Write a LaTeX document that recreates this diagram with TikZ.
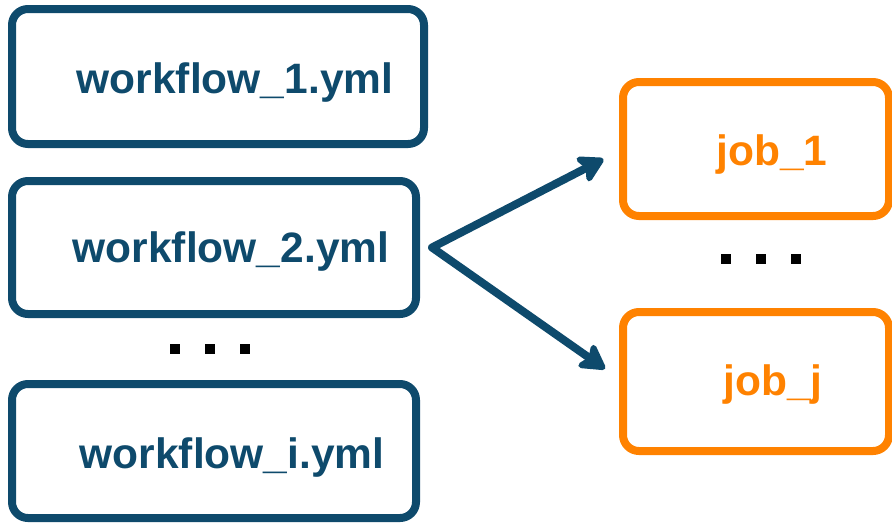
\documentclass[tikz,border=0pt]{standalone}
\usepackage{fontspec}
\setmainfont{Liberation Sans}
\usetikzlibrary{arrows.meta}
\definecolor{wfblue}{RGB}{14,74,108}
\definecolor{joborange}{RGB}{255,130,0}
\tikzset{
  wfbox/.style={draw=wfblue, line width=8pt, rounded corners=16pt, inner sep=0pt, outer sep=0pt},
  jobbox/.style={draw=joborange, line width=8pt, rounded corners=16pt, inner sep=0pt, outer sep=0pt},
  wftext/.style={anchor=base, text=wfblue, font=\fontsize{42.5}{50}\selectfont\bfseries, inner sep=0pt},
  jobtext/.style={anchor=base, text=joborange, font=\fontsize{42.5}{50}\selectfont\bfseries, inner sep=0pt},
  sqdot/.style={fill=black, minimum size=10pt, inner sep=0pt},
  arr/.style={draw=wfblue, line width=8pt, line cap=round, line join=round,
    {Stealth[length=30pt,width=34pt,inset=7pt,round]}-{Stealth[length=30pt,width=34pt,inset=7pt,round]},
    shorten <=22pt, shorten >=22pt}
}
\begin{document}
\begin{tikzpicture}[x=1pt,y=-1pt]
\useasboundingbox (0,0) rectangle (892,523);
\node[wfbox, minimum width=412pt, minimum height=135pt] (wf1) at (218,76.5) {};
\node[wfbox, minimum width=404pt, minimum height=133pt] (wf2) at (214,247.5) {};
\node[wfbox, minimum width=404pt, minimum height=134pt] (wfi) at (214,451) {};
\node[jobbox, minimum width=266pt, minimum height=134pt] (job1) at (756,149) {};
\node[jobbox, minimum width=266pt, minimum height=139pt] (jobj) at (756,381.5) {};
\node[wftext] (t1) at (235,93) {workflow\_1.yml};
\node[wftext] (t2) at (231,262) {workflow\_2.yml};
\node[wftext] (ti) at (232,468) {workflow\_i.yml};
\node[jobtext] (tj1) at (772,165) {job\_1};
\node[jobtext] (tjj) at (773,395) {job\_j};
\node[sqdot] (ld1) at (175,349) {};
\node[sqdot] (ld2) at (210,349) {};
\node[sqdot] (ld3) at (245,349) {};
\node[sqdot] (rd1) at (726,259) {};
\node[sqdot] (rd2) at (761,259) {};
\node[sqdot] (rd3) at (796,259) {};
\coordinate (v) at ([xshift=16pt]wf2.east);
\draw[arr] (job1.west) -- (v) -- (jobj.west);
\end{tikzpicture}
\end{document}
